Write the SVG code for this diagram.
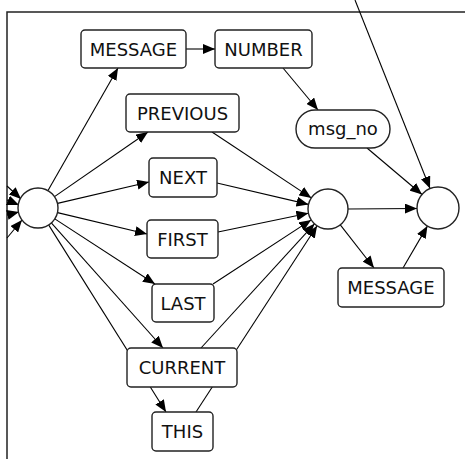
<svg xmlns="http://www.w3.org/2000/svg" width="465" height="459" viewBox="0 0 465 459">
  <defs>
    <marker id="arr" markerWidth="12" markerHeight="10" refX="12" refY="5" orient="auto" markerUnits="userSpaceOnUse">
      <path d="M0,0 L12,5 L0,10 z" fill="#000"/>
    </marker>
    <style>
      .frame { stroke: #222; stroke-width: 1.5; fill: none; }
      .edge { stroke: #000; stroke-width: 1.1; fill: none; marker-end: url(#arr); }
      .plain { stroke: #000; stroke-width: 1.1; fill: none; }
      .box { fill: #fff; stroke: #222; stroke-width: 1.4; }
      .lbl { font-family: "DejaVu Sans", sans-serif; font-size: 18px; fill: #111; text-anchor: middle; }
    </style>
  </defs>
  <rect width="465" height="459" fill="#fff"/>

  <!-- frame -->
  <path class="frame" d="M465,12 H7 V459"/>

  <!-- connectors -->
  <g id="connectors">
    <!-- incoming from the frame edge into the left circle -->
    <line class="edge" x1="7" y1="186" x2="21" y2="199"/>
    <line class="edge" x1="7" y1="200" x2="19" y2="205"/>
    <line class="edge" x1="7" y1="215" x2="19" y2="212"/>
    <line class="edge" x1="7" y1="238" x2="22" y2="220"/>

    <!-- left circle fan-out -->
    <line class="edge" x1="48" y1="190.6" x2="118" y2="68"/>
    <line class="edge" x1="54.5" y1="196.6" x2="148" y2="132"/>
    <line class="edge" x1="57.5" y1="203.4" x2="149" y2="182"/>
    <line class="edge" x1="57.5" y1="212.6" x2="147" y2="234"/>
    <line class="edge" x1="54.8" y1="218.9" x2="155" y2="284"/>
    <line class="edge" x1="51.3" y1="222.9" x2="163" y2="348"/>
    <line class="edge" x1="48.6" y1="224.9" x2="166" y2="412"/>

    <!-- fan-in to the middle circle -->
    <line class="edge" x1="212" y1="132" x2="311.3" y2="197.9"/>
    <line class="edge" x1="217" y1="183" x2="308.5" y2="204.4"/>
    <line class="edge" x1="218" y1="232" x2="308.4" y2="213.2"/>
    <line class="edge" x1="213" y1="284" x2="311.2" y2="219.9"/>
    <line class="edge" x1="201" y1="348" x2="314.5" y2="223.8"/>
    <line class="edge" x1="196" y1="412" x2="317.1" y2="225.8"/>

    <!-- top row -->
    <line class="edge" x1="186" y1="49" x2="215" y2="49"/>
    <line class="edge" x1="283" y1="68" x2="318" y2="110"/>

    <!-- into the right circle -->
    <line class="edge" x1="367" y1="148" x2="422" y2="194.5"/>
    <line class="edge" x1="355" y1="0" x2="430" y2="188.5"/>
    <line class="edge" x1="348" y1="209" x2="417" y2="208.5"/>
    <line class="edge" x1="340.3" y1="224.8" x2="374" y2="268"/>
    <line class="edge" x1="403" y1="268" x2="427.4" y2="226.1"/>
  </g>

  <!-- nodes -->
  <g id="n-start"><circle cx="38" cy="208" r="20" class="box"/></g>
  <g id="n-mid"><circle cx="328" cy="209" r="20" class="box"/></g>
  <g id="n-end"><circle cx="438" cy="208" r="21" class="box"/></g>

  <g id="n-message"><rect class="box" x="81" y="30" width="105" height="38" rx="4"/><text class="lbl" x="133.5" y="56">MESSAGE</text></g>
  <g id="n-number"><rect class="box" x="215" y="30" width="97" height="38" rx="4"/><text class="lbl" x="263.5" y="56">NUMBER</text></g>
  <g id="n-previous"><rect class="box" x="126" y="94" width="113" height="38" rx="4"/><text class="lbl" x="182.5" y="120">PREVIOUS</text></g>
  <g id="n-next"><rect class="box" x="149" y="158" width="68" height="39" rx="4"/><text class="lbl" x="183" y="184">NEXT</text></g>
  <g id="n-first"><rect class="box" x="147" y="220" width="71" height="38" rx="4"/><text class="lbl" x="182.5" y="246">FIRST</text></g>
  <g id="n-last"><rect class="box" x="152" y="284" width="62" height="38" rx="4"/><text class="lbl" x="183" y="310">LAST</text></g>
  <g id="n-current"><rect class="box" x="127" y="348" width="110" height="39" rx="4"/><text class="lbl" x="182" y="374">CURRENT</text></g>
  <g id="n-this"><rect class="box" x="152" y="412" width="61" height="39" rx="4"/><text class="lbl" x="182.5" y="438">THIS</text></g>
  <g id="n-msgno"><rect class="box" x="296" y="110" width="94" height="38" rx="19"/><text class="lbl" x="343" y="135">msg_no</text></g>
  <g id="n-message2"><rect class="box" x="338" y="268" width="106" height="39" rx="4"/><text class="lbl" x="391" y="294">MESSAGE</text></g>
</svg>
